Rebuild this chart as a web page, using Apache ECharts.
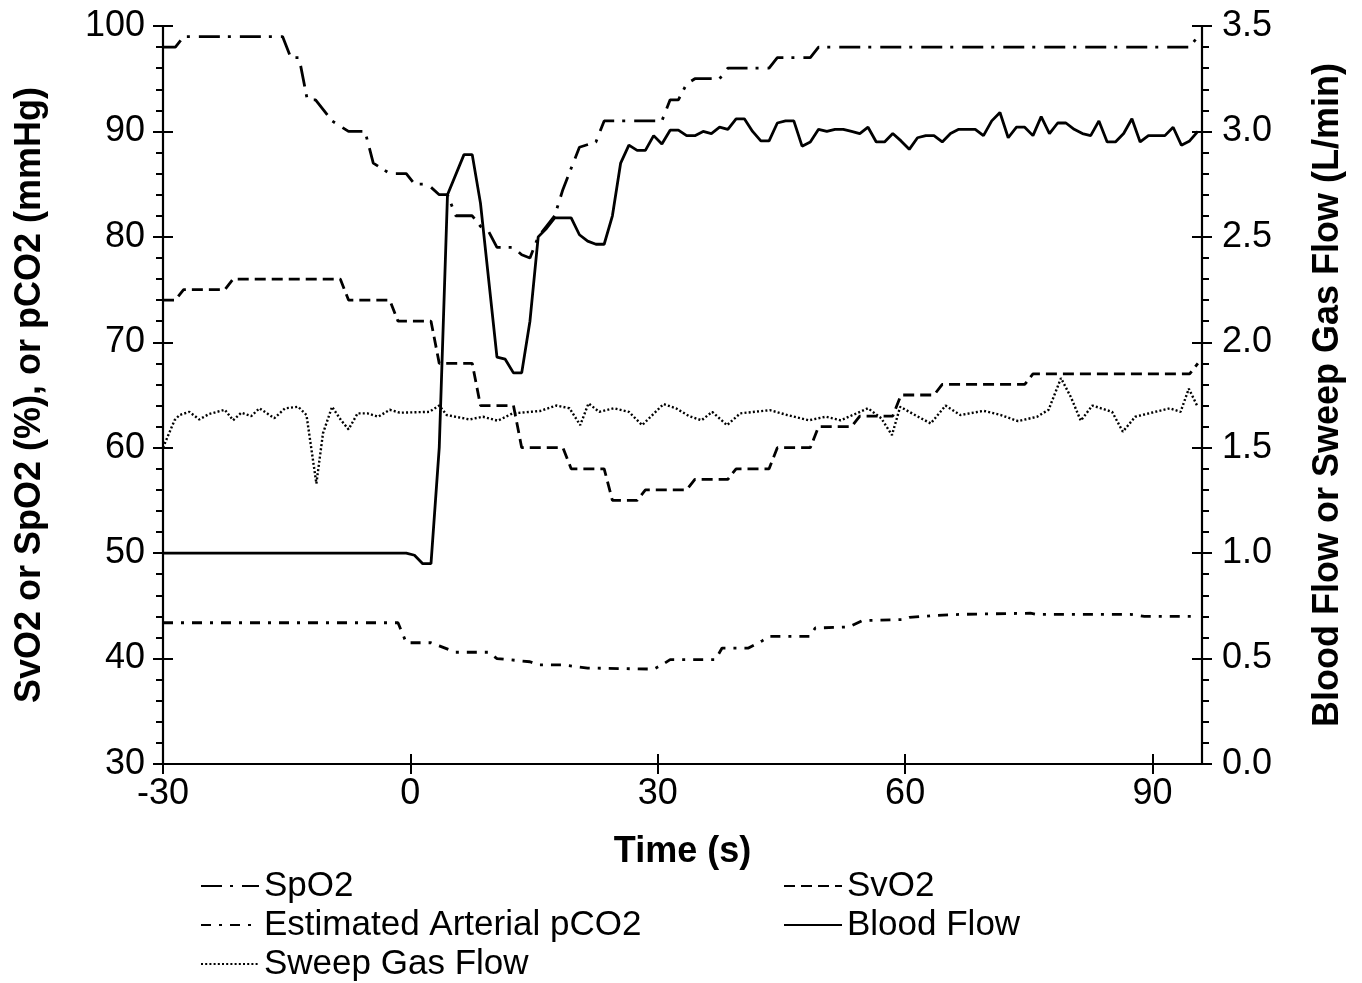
<!DOCTYPE html>
<html>
<head>
<meta charset="utf-8">
<script src="https://cdn.jsdelivr.net/npm/echarts@6/dist/echarts.min.js"></script>
<style>
  html, body { margin: 0; padding: 0; background: #fff; }
  #chart { width: 1362px; height: 983px; }
</style>
</head>
<body>
<div id="chart"></div>
<script>
// SpO2 (left axis, %)
const spo2Time = [-30, -28.5, -27.5, -15.5, -14.5, -13.5, -12.5, -11.5, -9.5, -8.5, -7.5, -5.5, -4.5, -3.5, -2.5, -0.5, 0.5, 1.5, 2.5, 3.5, 4.5, 5.5, 7.5, 8.5, 9.5, 10.5, 12.5, 13.5, 14.5, 15.5, 16.5, 17.5, 18.5, 19.5, 20.5, 22.5, 23.5, 30.5, 31.5, 32.5, 33.5, 34.5, 37.5, 38.5, 43.5, 44.5, 48.5, 49.5, 94.5, 95.5]
const spo2 = [98, 98, 99, 99, 97, 97, 93, 93, 91, 90.5, 90, 90, 87, 86.5, 86, 86, 85, 85, 84.7, 84, 84, 82, 82, 81, 80.5, 79, 79, 78.3, 78, 80, 81, 82, 84.5, 86.5, 88.5, 89, 91, 91, 93, 93, 94.5, 95, 95, 96, 96, 97, 97, 98, 98, 99]

// SvO2 (left axis, %)
const svo2Time = [-30, -28.5, -27.5, -22.5, -21.5, -8.5, -7.5, -2.5, -1.5, 2.5, 3.5, 7.5, 8.5, 12.5, 13.5, 18.5, 19.5, 23.5, 24.5, 27.5, 28.5, 33.5, 34.5, 38.5, 39.5, 43.5, 44.5, 48.5, 49.5, 53.5, 54.5, 58.5, 59.5, 63.5, 64.5, 74.5, 75.5, 94.5, 95.5]
const svo2 = [74, 74, 75, 75, 76, 76, 74, 74, 72, 72, 68, 68, 64, 64, 60, 60, 58, 58, 55, 55, 56, 56, 57, 57, 58, 58, 60, 60, 62, 62, 63, 63, 65, 65, 66, 66, 67, 67, 68]

// Estimated arterial pCO2 (left axis, mmHg)
const pco2Time = [-30, -1.5, -0.5, 2.5, 3.5, 5.5, 9.5, 10.5, 14.5, 15.5, 18.5, 21.5, 29.5, 30.5, 31.5, 37, 37.8, 41, 42.7, 43.5, 48.4, 49.1, 53.2, 54.8, 59.7, 60.5, 63.8, 67, 75.2, 75.9, 87.3, 89, 95.5]
const pco2 = [43.4, 43.4, 41.5, 41.5, 41.2, 40.6, 40.6, 40.0, 39.7, 39.4, 39.4, 39.1, 39.0, 39.4, 39.9, 39.9, 41.0, 41.0, 41.7, 42.1, 42.1, 42.9, 43.0, 43.6, 43.7, 43.9, 44.1, 44.2, 44.3, 44.2, 44.2, 44.0, 44.0]

// Blood flow (right axis, L/min)
const flowTime = [-30, -0.5, 0.5, 1.5, 2.5, 3.5, 4.5, 6.5, 7.5, 8.5, 10.5, 11.5, 12.5, 13.5, 14.5, 15.5, 16.5, 17.5, 19.5, 20.5, 21.5, 22.5, 23.5, 24.5, 25.5, 26.5, 27.5, 28.5, 29.5, 30.5, 31.5, 32.5,
  33.5, 34.5, 35.5, 36.5, 37.5, 38.5, 39.5, 40.5, 41.5, 42.5, 43.5, 44.5, 45.5, 46.5, 47.5, 48.5, 49.5, 50.5, 51.5, 52.5, 53.5, 54.5, 55.5, 56.5, 57.5, 58.5, 59.5, 60.5, 61.5, 62.5, 63.5, 64.5,
  65.5, 66.5, 67.5, 68.5, 69.5, 70.5, 71.5, 72.5, 73.5, 74.5, 75.5, 76.5, 77.5, 78.5, 79.5, 80.5, 81.5, 82.5, 83.5, 84.5, 85.5, 86.5, 87.5, 88.5, 89.5, 90.5, 91.5, 92.5, 93.5, 94.5, 95.5]
const bloodFlow = [1.0, 1.0, 0.99, 0.95, 0.95, 1.5, 2.70, 2.89, 2.89, 2.66, 1.93, 1.92, 1.855, 1.855, 2.10, 2.50, 2.54, 2.59, 2.59, 2.51, 2.48, 2.465, 2.465, 2.60, 2.85, 2.935, 2.91, 2.91, 2.98, 2.94, 3.006, 3.006,
  2.98, 2.98, 3.00, 2.99, 3.02, 3.01, 3.06, 3.06, 3.00, 2.955, 2.955, 3.04, 3.05, 3.05, 2.93, 2.95, 3.01, 3.00, 3.01, 3.01, 3.00, 2.99, 3.02, 2.95, 2.95, 2.99, 2.955, 2.915, 2.97, 2.98, 2.98, 2.95,
  2.99, 3.01, 3.01, 3.01, 2.98, 3.05, 3.09, 2.97, 3.02, 3.02, 2.98, 3.07, 2.99, 3.04, 3.04, 3.01, 2.99, 2.98, 3.05, 2.95, 2.95, 2.99, 3.06, 2.95, 2.98, 2.98, 2.98, 3.02, 2.935, 2.955, 3.00]

// Sweep gas flow (right axis, L/min)
const sweepTime = [-30, -28.6, -28, -26.8, -25.6, -24.4, -22.5, -21.5, -20.5, -19.3, -18.3, -16.5, -15.2, -13.6, -12.6, -11.4, -10.6, -9.5, -8.4, -7.5, -6.4, -5.2, -3.9, -2.5, -1.3, 2.3, 3.5, 4.4, 7.2, 8.8, 10.6, 12.4, 15.7, 17.7, 19.3, 20.6, 21.6, 22.9, 24.7, 26.5, 28.1, 30.7, 32.2, 33.8, 35.3, 36.6, 38.4, 40,
  43.6, 45.7, 48.3, 50.4, 52.2, 55.5, 57.1, 58.4, 59.4, 61.2, 63.1, 64.9, 66.7, 69.5, 71.6, 73.7, 76, 77.4, 78.9, 80.1, 81.3, 82.7, 85.1, 86.4, 87.9, 90.3, 92.1, 93.4, 94.4, 95.4]
const sweepFlow = [1.5, 1.63, 1.655, 1.67, 1.634, 1.66, 1.68, 1.63, 1.666, 1.65, 1.687, 1.64, 1.687, 1.694, 1.655, 1.33, 1.568, 1.694, 1.63, 1.587, 1.663, 1.663, 1.647, 1.68, 1.666, 1.67, 1.70, 1.655, 1.634, 1.647, 1.628, 1.663, 1.674, 1.70, 1.687, 1.607, 1.71, 1.67, 1.687, 1.67, 1.607, 1.707, 1.687, 1.65, 1.63, 1.67, 1.607, 1.663,
  1.678, 1.655, 1.63, 1.647, 1.63, 1.687, 1.64, 1.56, 1.694, 1.655, 1.615, 1.70, 1.655, 1.675, 1.655, 1.626, 1.647, 1.68, 1.83, 1.74, 1.628, 1.70, 1.67, 1.576, 1.647, 1.67, 1.687, 1.67, 1.78, 1.70]

const xTicks = [-30, 0, 30, 60, 90]

const FONT = '"Liberation Sans", Arial, sans-serif'
const BLACK = '#000'

const pairs = (ts, vs) => ts.map((t, i) => [t, vs[i]])

const lineSeries = (name, ts, vs, yAxisIndex, dash, width) => ({
  name,
  type: 'line',
  yAxisIndex,
  data: pairs(ts, vs),
  symbol: 'none',
  showSymbol: false,
  animation: false,
  lineStyle: { color: BLACK, width: width || 2.8, type: dash, cap: 'butt' },
  itemStyle: { color: BLACK },
  z: 3
})

// hidden copies of the axes, only to draw the inner half of the major ticks
const tickAxisBase = {
  axisLine: { show: false, onZero: false },
  axisLabel: { show: false },
  splitLine: { show: false },
  axisTick: { show: true, inside: true, length: 10, lineStyle: { color: BLACK, width: 2 } }
}

const legendBase = {
  orient: 'vertical', top: 868, padding: 0,
  itemWidth: 58, itemHeight: 14, itemGap: 3,
  itemStyle: { opacity: 0 },
  textStyle: { fontFamily: FONT, fontSize: 35, color: BLACK, lineHeight: 36 }
}

const option = {
  backgroundColor: '#fff',
  animation: false,
  grid: { left: 163, right: 160, top: 26, bottom: 219, containLabel: false },
  legend: [
    Object.assign({ left: 200, data: ['SpO2', 'Estimated Arterial pCO2', 'Sweep Gas Flow'] }, legendBase),
    Object.assign({ left: 783, data: ['SvO2', 'Blood Flow'] }, legendBase)
  ],
  xAxis: [
    {
      type: 'value', min: -30, max: 96, interval: 30,
      name: 'Time (s)', nameLocation: 'middle', nameGap: 70,
      nameTextStyle: { fontFamily: FONT, fontSize: 36, fontWeight: 'bold', color: BLACK },
      axisLine: { show: true, onZero: false, lineStyle: { color: BLACK, width: 2.2 } },
      axisTick: { show: true, length: 10, customValues: xTicks, lineStyle: { color: BLACK, width: 2 } },
      axisLabel: {
        fontFamily: FONT, fontSize: 36, color: BLACK, margin: 12, customValues: xTicks,
        formatter: v => xTicks.includes(v) ? String(v) : ''
      },
      splitLine: { show: false }
    },
    Object.assign({ type: 'value', min: -30, max: 96, interval: 30, position: 'bottom' }, tickAxisBase,
      { axisTick: { show: true, inside: true, length: 10, customValues: xTicks, lineStyle: { color: BLACK, width: 2 } } })
  ],
  yAxis: [
    {
      type: 'value', min: 30, max: 100, interval: 10, position: 'left',
      name: 'SvO2 or SpO2 (%), or pCO2 (mmHg)', nameLocation: 'middle', nameGap: 115,
      nameTextStyle: { fontFamily: FONT, fontSize: 36, fontWeight: 'bold', color: BLACK },
      axisLine: { show: true, onZero: false, lineStyle: { color: BLACK, width: 2.2 } },
      axisTick: { show: true, length: 10, lineStyle: { color: BLACK, width: 2 } },
      minorTick: { show: true, splitNumber: 5, length: 7, lineStyle: { color: BLACK, width: 2 } },
      axisLabel: { fontFamily: FONT, fontSize: 36, color: BLACK, margin: 18 },
      splitLine: { show: false },
      minorSplitLine: { show: false }
    },
    {
      type: 'value', min: 0, max: 3.5, interval: 0.5, position: 'right',
      name: 'Blood Flow or Sweep Gas Flow (L/min)', nameLocation: 'middle', nameGap: 108,
      nameRotate: 90,
      nameTextStyle: { fontFamily: FONT, fontSize: 36, fontWeight: 'bold', color: BLACK },
      axisLine: { show: true, onZero: false, lineStyle: { color: BLACK, width: 2.2 } },
      axisTick: { show: true, length: 10, lineStyle: { color: BLACK, width: 2 } },
      minorTick: { show: true, splitNumber: 5, length: 7, lineStyle: { color: BLACK, width: 2 } },
      axisLabel: { fontFamily: FONT, fontSize: 36, color: BLACK, margin: 20, formatter: v => v.toFixed(1) },
      splitLine: { show: false },
      minorSplitLine: { show: false }
    },
    Object.assign({ type: 'value', min: 30, max: 100, interval: 10, position: 'left' }, tickAxisBase),
    Object.assign({ type: 'value', min: 0, max: 3.5, interval: 0.5, position: 'right' }, tickAxisBase)
  ],
  series: [
    lineSeries('SpO2', spo2Time, spo2, 0, [21, 8, 3, 9]),
    lineSeries('SvO2', svo2Time, svo2, 0, [11, 6]),
    lineSeries('Estimated Arterial pCO2', pco2Time, pco2, 0, [10, 8, 3, 8]),
    lineSeries('Blood Flow', flowTime, bloodFlow, 1, 'solid'),
    lineSeries('Sweep Gas Flow', sweepTime, sweepFlow, 1, [2, 2.2], 2.4)
  ]
}

const chart = echarts.init(document.getElementById('chart'), null, { renderer: 'canvas' })
chart.setOption(option)
</script>
</body>
</html>
